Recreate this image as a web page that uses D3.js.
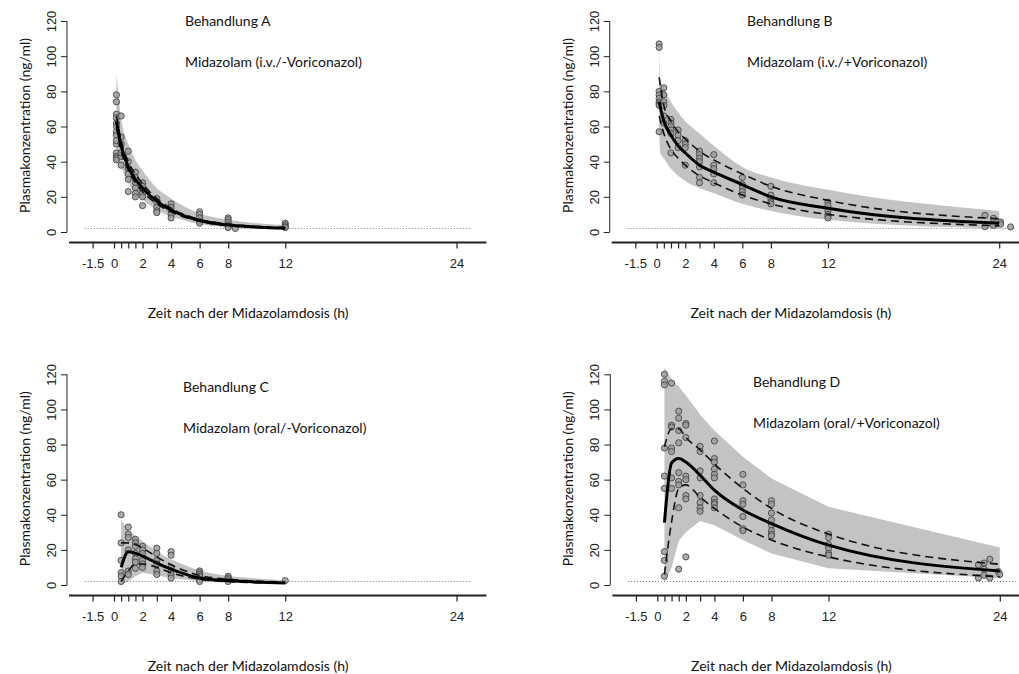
<!DOCTYPE html>
<html><head><meta charset="utf-8">
<script src="https://cdn.jsdelivr.net/npm/d3@7/dist/d3.min.js"></script>
<style>
body{margin:0;background:#fff;}
svg{display:block;}
.tick text{font-family:"Liberation Sans",Arial,sans-serif;font-size:13px;fill:#222;}
.lbl{font-family:Lato,"Open Sans",sans-serif;font-size:14px;fill:#111;}
</style></head>
<body>
<svg id="c" width="1019" height="674"></svg>
<script>
// ---- tick labels ----
const yTicks = [0, 20, 40, 60, 80, 100, 120];
const xTicks = [-1.5, 0, 0.5, 1, 1.5, 2, 3, 4, 6, 8, 12, 24];
const xTickLabels = {"-1.5":"-1.5","0":"0","2":"2","4":"4","6":"6","8":"8","12":"12","24":"24"};
const lloq = 2;

// ---- Behandlung A ----
const timesA = [0.17, 0.5, 1, 1.5, 2, 3, 4, 6, 8, 12];
const medA   = [63, 49, 37, 30, 25, 17.5, 12.5, 6.5, 4, 2.2];
const hiDashA = [66, 52, 40, 33, 27.5, 19, 13.5, 7.2, 4.5, 2.5];
const loDashA = [60, 46, 35, 28, 23, 16, 11.5, 6, 3.6, 2];
const bandTimesA = [0.17, 0.5, 1, 1.5, 2, 3, 4, 6, 8, 12];
const bandHiA = [90, 65, 50, 41, 35, 25, 19, 10.5, 7, 4];
const bandLoA = [44, 37, 28, 22, 18.5, 12.5, 9, 4.5, 2.7, 1.5];
const obsTA = [0.17,0.17,0.17,0.17,0.17,0.17,0.17,0.17,0.17,0.17,0.17,0.17,0.17,0.17,
  0.5,0.5,0.5,0.5,0.5,0.5, 1,1,1,1,1,1, 1.5,1.5,1.5,1.5,1.5,1.5, 2,2,2,2,2,2,
  3,3,3,3,3, 4,4,4,4,4, 6,6,6,6,6, 8,8,8,8,8,8, 8.5, 12,12,12,12];
const obsCA = [78,74,67,65,62,60,57,55,45,43,42,41,50,52,
  66,54,43,38,45,50, 46,40,36,33,30,23, 34,31,28,25,22,20, 28,26,24,22,20,15,
  19,17,14,12,11, 16,14,12,10,8, 11.5,10,8,6,5, 8,7,5.5,4,3,2.5, 2, 5,4,3,2.5];

// ---- Behandlung B ----
const timesB = [0.17, 0.5, 1, 1.5, 2, 3, 4, 6, 8, 12, 24];
const medB   = [74, 63, 55, 49, 45, 38, 34, 27, 20, 13.5, 5];
const hiDashB = [88, 72, 63, 57, 53, 46, 41, 33, 26, 18, 7.5];
const loDashB = [66, 56, 47, 42, 38, 32, 28, 21, 16, 10, 3.5];
const bandTimesB = [0.17, 0.25, 0.5, 1, 1.5, 2, 3, 4, 6, 8, 12, 24];
const bandHiB = [106, 87, 82, 74, 68, 63, 56, 49, 37, 31, 24, 12];
const bandLoB = [57, 45, 42, 36, 32, 29, 25, 22, 16, 12, 7, 2];
const obsTB = [0.17,0.17,0.17,0.17,0.17,0.17,0.17,0.17,0.17,
  0.5,0.5,0.5,0.5,0.5,0.5, 1,1,1,1,1,1, 1.5,1.5,1.5,1.5, 2,2,2,2,
  3,3,3,3,3,3,3, 4,4,4,4,4, 6,6,6,6,6, 8,8,8,8,8, 12,12,12,12,12,12,
  23,23, 23.6,23.6, 24.1,24.1, 24.8];
const obsCB = [107,105,80,78,76,74,73,72,57,
  82,78,74,72,66,62, 64,62,60,58,56,45, 58,55,52,48, 52,50,48,38,
  46,44,42,40,37,31,28, 44,38,36,33,28, 31,27,25,23,21, 26,21,19,17,16, 17,15,12,10,9,8,
  9.5,3, 7.8,3.8, 5.7,4.5, 2.9];

// ---- Behandlung C ----
const timesC = [0.5, 1, 1.5, 2, 3, 4, 6, 8, 12];
const medC   = [10, 19, 18, 16.5, 12.5, 9, 4, 2.5, 1.2];
const hiDashC = [24, 24, 23, 21, 16, 11.5, 5.5, 3.3, 1.7];
const loDashC = [2, 8, 12, 12, 10, 7, 3.3, 2, 1];
const bandTimesC = [0.5, 1, 1.5, 2, 3, 4, 6, 8, 12];
const bandHiC = [37, 31, 28, 25, 19, 14.5, 8, 5, 2.5];
const bandLoC = [0, 2, 5, 7, 5.5, 4, 2, 1.3, 0.6];
const obsTC = [0.5,0.5,0.5,0.5,0.5,0.5, 1,1,1,1,1,1, 1.5,1.5,1.5,1.5,1.5,1.5,1.5,
  2,2,2,2,2,2, 3,3,3,3,3,3, 4,4,4,4,4,4, 6,6,6,6,6,6, 8,8,8,8, 12];
const obsCC = [40,24,14,7,5,2, 33,29,27,20,8,6, 26,24,22,18,15,13,9.5,
  22,20,18,14,12,10, 21,18,14,12,8,6, 19,17,10,8,6,4, 8,7,6,5,3,2, 5,4,3,2, 2.5];

// ---- Behandlung D ----
const timesD = [0.5, 1, 1.5, 2, 3, 4, 6, 8, 12, 24];
const medD   = [35.5, 69.5, 72, 70, 62.5, 54, 42.7, 35, 22.7, 8];
const hiDashD = [78.7, 89, 89, 84, 77, 69, 55, 43.6, 29, 11.8];
const loDashD = [6, 36, 55, 57, 50, 43.6, 33, 25.6, 16, 4.7];
const bandTimesD = [0.5, 1, 1.5, 2, 3, 4, 6, 8, 12, 24];
const bandHiD = [124, 117, 113, 108, 97, 88, 73, 60.7, 44.5, 21.4];
const bandLoD = [1, 10, 25, 30, 36.5, 34, 25.6, 18, 9.5, 3.8];
const obsTD = [0.5,0.5,0.5,0.5,0.5,0.5,0.5,0.5,0.5, 1,1,1,1,1,1,1,
  1.5,1.5,1.5,1.5,1.5,1.5,1.5,1.5,1.5, 2,2,2,2,2,2,2,2, 3,3,3,3,3,3,3,3,
  4,4,4,4,4,4,4,4,4,4, 6,6,6,6,6,6,6, 8,8,8,8,8,8,8,8, 12,12,12,12,12,12,
  22.5,22.5, 22.9,22.9,22.9, 23.3,23.3, 23.9, 24];
const obsCD = [120,116,114,78,62,55,19,14,5, 115,91,90,78,76,61,55,
  99,95,88,81,64,59,57,44,9, 92,91,84,62,60,51,49,16, 79,76,65,61,51,47,44,42,
  82,72,70,66,63,61,49,47,46,44, 63,57,48,46,39,32,31, 48,46,41,37,34,31,29,28, 29,27,23,21,18,17,
  11.5,4, 12.5,9,5.5, 14.7,4, 7.7, 6];

const panels = [
  {x0:114, yT:21, yB:232, title:"Behandlung A", sub:"Midazolam (i.v./-Voriconazol)", tx:185, ty:26, smooth:true,
   t:timesA, med:medA, hi:hiDashA, lo:loDashA, bt:bandTimesA, bh:bandHiA, bl:bandLoA, ot:obsTA, oc:obsCA},
  {x0:656.7, yT:21, yB:232, title:"Behandlung B", sub:"Midazolam (i.v./+Voriconazol)", tx:747, ty:26, smooth:true,
   t:timesB, med:medB, hi:hiDashB, lo:loDashB, bt:bandTimesB, bh:bandHiB, bl:bandLoB, ot:obsTB, oc:obsCB},
  {x0:114, yT:374.3, yB:585, title:"Behandlung C", sub:"Midazolam (oral/-Voriconazol)", tx:183, ty:392, smooth:false,
   t:timesC, med:medC, hi:hiDashC, lo:loDashC, bt:bandTimesC, bh:bandHiC, bl:bandLoC, ot:obsTC, oc:obsCC},
  {x0:657.3, yT:374.3, yB:585, title:"Behandlung D", sub:"Midazolam (oral/+Voriconazol)", tx:753, ty:387, smooth:false,
   t:timesD, med:medD, hi:hiDashD, lo:loDashD, bt:bandTimesD, bh:bandHiD, bl:bandLoD, ot:obsTD, oc:obsCD}
];

const svg = d3.select("#c");

panels.forEach(p => {
  const x = d3.scaleLinear().domain([0, 24]).range([p.x0, p.x0 + 342.5]);
  const y = d3.scaleLinear().domain([0, 120]).range([p.yB, p.yT]);
  const g = svg.append("g");
  const bandCurve = p.smooth ? d3.curveMonotoneX : d3.curveLinear;

  // band
  const area = d3.area().x((d,i)=>x(p.bt[i])).y0((d,i)=>y(p.bl[i])).y1((d,i)=>y(p.bh[i])).curve(bandCurve);
  g.append("path").datum(p.bt).attr("d", area).attr("fill", "#c3c3c3");

  // LLOQ dotted line
  g.append("line").attr("x1", x(-2.05)).attr("x2", x(25.1)).attr("y1", y(lloq)).attr("y2", y(lloq))
    .attr("stroke", "#777").attr("stroke-width", 1).attr("stroke-dasharray", "1,2");

  // observations
  g.selectAll("circle").data(p.ot).join("circle")
    .attr("cx", (d)=>x(d)).attr("cy", (d,i)=>y(p.oc[i])).attr("r", 3.1)
    .attr("fill", "#9c9c9c").attr("fill-opacity", 0.85).attr("stroke", "#3a3a3a").attr("stroke-width", 0.8);

  const line = (arr) => d3.line().x((d,i)=>x(p.t[i])).y((d,i)=>y(arr[i])).curve(d3.curveMonotoneX);
  g.append("path").datum(p.t).attr("d", line(p.hi)).attr("fill","none").attr("stroke","#111").attr("stroke-width",1.6).attr("stroke-dasharray","8,5");
  g.append("path").datum(p.t).attr("d", line(p.lo)).attr("fill","none").attr("stroke","#111").attr("stroke-width",1.6).attr("stroke-dasharray","8,5");
  g.append("path").datum(p.t).attr("d", line(p.med)).attr("fill","none").attr("stroke","#000").attr("stroke-width",3);

  // y axis
  const yAxX = p.x0 - 47;
  const ya = g.append("g").attr("transform", `translate(${yAxX},0)`)
    .call(d3.axisLeft(y).tickValues(yTicks).tickSize(6).tickSizeOuter(0));
  ya.select(".domain").attr("stroke", "#222").attr("d", `M0,${p.yB}V${p.yT}`);
  ya.selectAll(".tick line").attr("stroke", "#222");
  ya.selectAll(".tick text").attr("transform", "rotate(-90)").attr("x", 0).attr("y", -11).attr("dy", 0)
    .attr("text-anchor", "middle");

  // x axis
  const axY = p.yB + 10.5;
  const xa = g.append("g").attr("transform", `translate(0,${axY})`)
    .call(d3.axisBottom(x).tickValues(xTicks).tickSize(6).tickPadding(10.5).tickFormat(d => xTickLabels[String(d)] || ""));
  xa.select(".domain").attr("d", `M${x(-3.15)},0H${x(26.1)}`).attr("stroke", "#222").attr("stroke-width", 2);
  xa.selectAll(".tick line").attr("stroke", "#222").attr("stroke-width", 1.2);

  // axis titles
  g.append("text").attr("class","lbl").attr("text-anchor","middle")
    .attr("transform", `translate(${p.x0 - 84},${(p.yT + p.yB) / 2 - 1}) rotate(-90)`)
    .text("Plasmakonzentration (ng/ml)");
  g.append("text").attr("class","lbl").attr("text-anchor","middle")
    .attr("x", x(9.4)).attr("y", p.yB + 86).text("Zeit nach der Midazolamdosis (h)");

  // annotations
  g.append("text").attr("class","lbl").attr("x", p.tx).attr("y", p.ty).text(p.title);
  g.append("text").attr("class","lbl").attr("x", p.tx).attr("y", p.ty + 41).text(p.sub);
});
</script>
</body></html>
